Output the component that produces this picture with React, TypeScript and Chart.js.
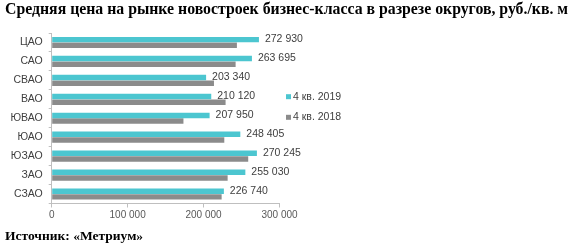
import React, { useEffect, useRef } from "react";
import { Chart, registerables } from "chart.js";

Chart.register(...registerables);

const categories = ["ЦАО", "САО", "СВАО", "ВАО", "ЮВАО", "ЮАО", "ЮЗАО", "ЗАО", "СЗАО"];
const values2019 = [272930, 263695, 203340, 210120, 207950, 248405, 270245, 255030, 226740];
const values2018 = [243900, 242200, 213700, 229000, 173500, 227300, 258800, 231700, 223800];
const seriesLabels = ["4 кв. 2019", "4 кв. 2018"];
const xTicks = [0, 100000, 200000, 300000];
const titleText = "Средняя цена на рынке новостроек бизнес-класса в разрезе округов, руб./кв. м";
const sourceText = "Источник: «Метриум»";

const CYAN = "#4cc6d0";
const GRAY = "#8b8b8b";

function fmt(v: number): string {
  const s = Math.round(v).toString();
  return s.replace(/\B(?=(\d{3})+(?!\d))/g, " ");
}

const labelPlugin = {
  id: "valueLabels",
  afterDatasetsDraw(chart: any) {
    const ctx = chart.ctx;
    const meta = chart.getDatasetMeta(0);
    ctx.save();
    ctx.font = "10.5px 'Liberation Sans', Arial, sans-serif";
    ctx.fillStyle = "#404040";
    ctx.textAlign = "left";
    ctx.textBaseline = "middle";
    meta.data.forEach((bar: any, i: number) => {
      ctx.fillText(fmt(values2019[i]), bar.x + 6, bar.y - 0.5);
    });
    ctx.restore();
  },
};

const legendPlugin = {
  id: "customLegend",
  afterDraw(chart: any) {
    const ctx = chart.ctx;
    const area = chart.chartArea;
    const x = area.right + 6.5;
    const ys = [96.7, 117.3];
    ctx.save();
    ctx.font = "10.5px 'Liberation Sans', Arial, sans-serif";
    ctx.textAlign = "left";
    ctx.textBaseline = "middle";
    chart.data.datasets.forEach((ds: any, i: number) => {
      ctx.fillStyle = ds.backgroundColor;
      ctx.fillRect(x, ys[i] - 2.5, 5, 5);
      ctx.fillStyle = "#404040";
      ctx.fillText(ds.label, x + 7, ys[i]);
    });
    ctx.restore();
  },
};

export default function App() {
  const ref = useRef<HTMLCanvasElement | null>(null);

  useEffect(() => {
    document.body.style.margin = "0";
    if (!ref.current) return;
    const chart = new Chart(ref.current, {
      type: "bar",
      data: {
        labels: categories,
        datasets: [
          {
            label: seriesLabels[0],
            data: values2019,
            backgroundColor: CYAN,
            barPercentage: 0.96,
            categoryPercentage: 0.6,
          },
          {
            label: seriesLabels[1],
            data: values2018,
            backgroundColor: GRAY,
            barPercentage: 0.96,
            categoryPercentage: 0.6,
          },
        ],
      },
      options: {
        indexAxis: "y",
        animation: false,
        responsive: false,
        maintainAspectRatio: false,
        layout: { padding: { top: 33, right: 582 - 279.5, left: 0, bottom: 0 } },
        plugins: {
          legend: { display: false },
          tooltip: { enabled: false },
          title: { display: false },
        },
        scales: {
          x: {
            min: 0,
            max: 300000,
            afterBuildTicks(scale: any) {
              scale.ticks = xTicks.map((v) => ({ value: v }));
            },
            afterFit(scale: any) {
              scale.height = 46.5;
            },
            ticks: {
              callback: (v: any) => fmt(Number(v)),
              color: "#595959",
              font: { size: 10, family: "'Liberation Sans', Arial, sans-serif" },
              padding: 2,
              maxRotation: 0,
            },
            grid: { drawOnChartArea: false, drawTicks: true, tickLength: 4, color: "#bfbfbf" },
            border: { color: "#bfbfbf" },
          },
          y: {
            afterFit(scale: any) {
              scale.width = 51.7;
            },
            ticks: {
              color: "#404040",
              font: { size: 10.5, family: "'Liberation Sans', Arial, sans-serif" },
              padding: 6,
            },
            grid: { drawOnChartArea: false, drawTicks: true, tickLength: 3, color: "#bfbfbf", offset: true },
            border: { color: "#bfbfbf" },
          },
        },
      },
      plugins: [labelPlugin, legendPlugin],
    });
    return () => chart.destroy();
  }, []);

  return (
    <div style={{ position: "relative", width: 582, height: 250, background: "#fff", overflow: "hidden" }}>
      <canvas ref={ref} width={582} height={250} style={{ position: "absolute", left: 0, top: 0 }} />
      <div
        style={{
          position: "absolute",
          left: 5,
          top: 0,
          fontFamily: "'Liberation Serif', 'Times New Roman', serif",
          fontWeight: "bold",
          fontSize: 15.8,
          lineHeight: "18px",
          color: "#000",
          whiteSpace: "nowrap",
        }}
      >
        {titleText}
      </div>
      <div
        style={{
          position: "absolute",
          left: 5,
          top: 228,
          fontFamily: "'Liberation Serif', 'Times New Roman', serif",
          fontWeight: "bold",
          fontSize: 13.5,
          lineHeight: "16px",
          color: "#000",
          whiteSpace: "nowrap",
        }}
      >
        {sourceText}
      </div>
    </div>
  );
}
